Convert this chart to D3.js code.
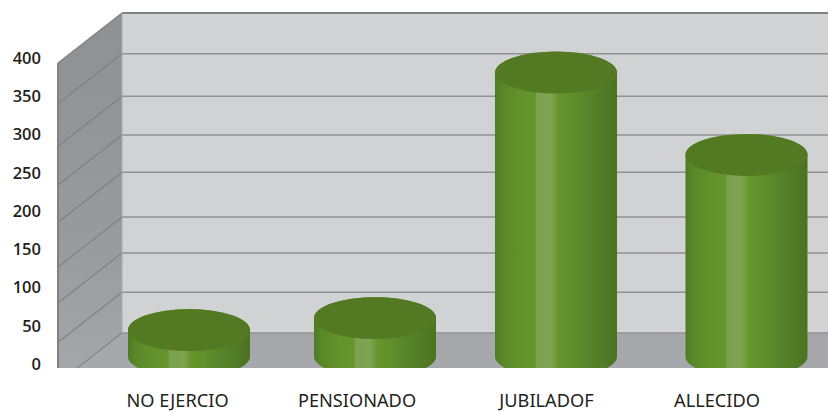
<!DOCTYPE html>
<html><head><meta charset="utf-8">
<script src="https://cdn.jsdelivr.net/npm/d3@7"></script>
<style>html,body{margin:0;padding:0;background:#fff;overflow:hidden}svg{display:block}</style>
</head><body><div id="c"></div>
<script>
const categories = ["NO EJERCIO","PENSIONADO","JUBILADOF","ALLECIDO"];
const values = [33, 48, 355, 252];
const tickValues = [0,50,100,150,200,250,300,350,400];
const gridValues = [0,51,100,145,201,247.5,296,349,400];
const barCenters = [189, 375, 556, 746.5];
const categoryLabelX = [177.5, 357, 546.5, 717];

const W=828,H=411;
const svg=d3.select("#c").append("svg").attr("width",W).attr("height",H);
const defs=svg.append("defs");
const backX=122, frontX=58, right=828, clipY=368;
const yBack=d3.scaleLinear().domain([0,400]).range([333,13]);
const yFront=d3.scaleLinear().domain([0,400]).range([383,63]);
const yLabel=d3.scaleLinear().domain([0,400]).range([364,58]);
const yBar=d3.scaleLinear().domain([0,400]).range([356.5,36.5]);
const rx=61, ry=21;

const g=defs.append("linearGradient").attr("id","cyl");
[[0,"#4f7a26"],[.06,"#598729"],[.2,"#62922a"],[.33,"#65952b"],[.34,"#7da24f"],[.46,"#7fa350"],[.52,"#65952b"],[.62,"#62902b"],[.72,"#5a872b"],[.88,"#517c25"],[1,"#4a7220"]]
 .forEach(([o,c])=>g.append("stop").attr("offset",o).attr("stop-color",c));
const wall=defs.append("linearGradient").attr("id","wall").attr("x1",0).attr("y1",0).attr("x2",0).attr("y2",1);
[[0,"#8f9093"],[.6,"#999a9d"],[1,"#a6a7aa"]].forEach(([o,c])=>wall.append("stop").attr("offset",o).attr("stop-color",c));
defs.append("clipPath").attr("id","plot").append("rect").attr("x",0).attr("y",0).attr("width",W).attr("height",clipY);

const plot=svg.append("g").attr("clip-path","url(#plot)");
plot.append("rect").attr("x",backX).attr("y",yBack(400)).attr("width",right-backX).attr("height",yBack(0)-yBack(400)).attr("fill","#d1d2d4");
plot.append("path").attr("d",d3.line()([[backX,yBack(0)],[right,yBack(0)],[right,yFront(0)],[frontX,yFront(0)]])).attr("fill","#a7a8ab");
plot.append("path").attr("d",d3.line()([[frontX,yFront(400)],[backX,yBack(400)],[backX,yBack(0)],[frontX,yFront(0)]])).attr("fill","url(#wall)");

plot.selectAll("line.back").data(gridValues).join("line").attr("class","back")
 .attr("x1",backX).attr("x2",right).attr("y1",d=>yBack(d)).attr("y2",d=>yBack(d))
 .attr("stroke",d=>d===400?"#808285":"#909194").attr("stroke-width",d=>d===400?2:1.6);
plot.selectAll("line.side").data(gridValues).join("line").attr("class","side")
 .attr("x1",frontX).attr("x2",backX).attr("y1",d=>yFront(d)).attr("y2",d=>yBack(d))
 .attr("stroke","#7f8083").attr("stroke-width",1.1);
plot.append("line").attr("x1",frontX).attr("x2",frontX).attr("y1",yFront(400)).attr("y2",clipY).attr("stroke","#808285").attr("stroke-width",2);
plot.append("line").attr("x1",backX).attr("x2",backX).attr("y1",yBack(400)).attr("y2",yBack(0)).attr("stroke","#a7a9ac").attr("stroke-width",1);

const bars=plot.selectAll("g.bar").data(values).join("g").attr("class","bar");
bars.append("path").attr("fill","url(#cyl)").attr("d",(d,i)=>{
  const c=barCenters[i],t=yBar(d),b=yBar(0);
  return `M${c-rx},${t}L${c-rx},${b}A${rx},${ry} 0 0 0 ${c+rx},${b}L${c+rx},${t}A${rx},${ry} 0 0 0 ${c-rx},${t}Z`;
});
bars.append("ellipse").attr("cx",(d,i)=>barCenters[i]).attr("cy",d=>yBar(d)).attr("rx",rx).attr("ry",ry).attr("fill","#537a22");

svg.selectAll("text.tick").data(tickValues).join("text").attr("class","tick")
 .attr("x",41).attr("y",d=>yLabel(d)).attr("dy","0.36em").attr("text-anchor","end")
 .attr("font-family","'Open Sans'").attr("font-weight",600).attr("font-size",16.5).attr("fill","#231f20").text(d=>d);
svg.selectAll("text.cat").data(categories).join("text").attr("class","cat")
 .attr("x",(d,i)=>categoryLabelX[i]).attr("y",407).attr("text-anchor","middle")
 .attr("font-family","'Noto Sans'").attr("font-size",18.2).attr("fill","#231f20").text(d=>d);
</script></body></html>
